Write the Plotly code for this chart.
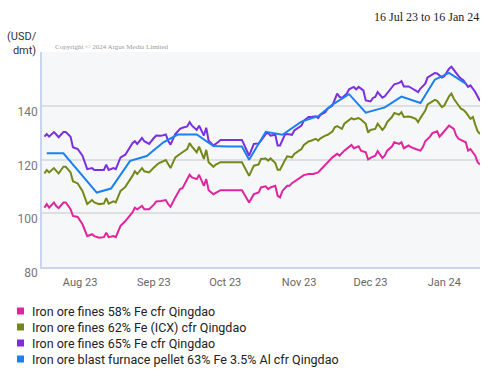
import plotly.graph_objects as go

# ---------------- data ----------------
series_names = [
    "Iron ore fines 58% Fe cfr Qingdao",
    "Iron ore fines 62% Fe (ICX) cfr Qingdao",
    "Iron ore fines 65% Fe cfr Qingdao",
    "Iron ore blast furnace pellet 63% Fe 3.5% Al cfr Qingdao",
]
series_colors = ["#e0249e", "#76871a", "#7b2fe0", "#1b80f0"]

fines58_dates = [
    "2023-07-17", "2023-07-18", "2023-07-19", "2023-07-21", "2023-07-22", "2023-07-23", "2023-07-25",
    "2023-07-26", "2023-07-28", "2023-07-29", "2023-07-31", "2023-08-02", "2023-08-04", "2023-08-06",
    "2023-08-07", "2023-08-09", "2023-08-11", "2023-08-12", "2023-08-13", "2023-08-15", "2023-08-16",
    "2023-08-18", "2023-08-19", "2023-08-20", "2023-08-23", "2023-08-24", "2023-08-25", "2023-08-27",
    "2023-08-28", "2023-08-30", "2023-09-01", "2023-09-02", "2023-09-04", "2023-09-06", "2023-09-07",
    "2023-09-08", "2023-09-10", "2023-09-12", "2023-09-13", "2023-09-15", "2023-09-16", "2023-09-17",
    "2023-09-19", "2023-09-20", "2023-09-22", "2023-09-23", "2023-09-24", "2023-09-26", "2023-09-27",
    "2023-09-29", "2023-10-08", "2023-10-11", "2023-10-13", "2023-10-15", "2023-10-16", "2023-10-18",
    "2023-10-19", "2023-10-20", "2023-10-22", "2023-10-23", "2023-10-24", "2023-10-25", "2023-10-27",
    "2023-10-28", "2023-10-29", "2023-10-31", "2023-11-01", "2023-11-03", "2023-11-05", "2023-11-07",
    "2023-11-09", "2023-11-11", "2023-11-13", "2023-11-15", "2023-11-17", "2023-11-18", "2023-11-20",
    "2023-11-22", "2023-11-23", "2023-11-24", "2023-11-26", "2023-11-27", "2023-11-29", "2023-11-30",
    "2023-12-01", "2023-12-03", "2023-12-04", "2023-12-06", "2023-12-07", "2023-12-08", "2023-12-10",
    "2023-12-11", "2023-12-13", "2023-12-14", "2023-12-15", "2023-12-17", "2023-12-18", "2023-12-20",
    "2023-12-22", "2023-12-23", "2023-12-24", "2023-12-26", "2023-12-27", "2023-12-29", "2023-12-30",
    "2023-12-31", "2024-01-02", "2024-01-03", "2024-01-05", "2024-01-06", "2024-01-07", "2024-01-09",
    "2024-01-10", "2024-01-11", "2024-01-12", "2024-01-14", "2024-01-15", "2024-01-16",
]
fines58_values = [
    102.1, 103.4, 102.1, 104.0, 102.7, 101.9, 104.0,
    104.0, 101.5, 99.0, 98.6, 95.9, 91.5, 92.2,
    91.5, 90.9, 91.1, 92.8, 91.1, 91.5, 91.1,
    95.3, 96.2, 97.1, 100.3, 102.1, 101.5, 102.7,
    101.5, 101.5, 103.2, 104.4, 104.6, 104.9, 103.4,
    102.4, 105.9, 109.0, 109.3, 112.7, 114.3, 113.3,
    112.7, 114.3, 110.2, 112.7, 108.6, 107.1, 107.7,
    108.6, 108.6, 104.0, 107.1, 107.7, 109.6, 110.0,
    109.0, 109.6, 110.2, 106.5, 105.9, 108.3, 110.2,
    110.2, 111.2, 112.4, 113.3, 114.2, 114.6, 114.6,
    115.2, 117.1, 119.0, 120.8, 122.1, 121.4, 123.3,
    124.6, 125.4, 124.2, 124.9, 123.3, 122.7, 120.0,
    120.6, 121.4, 123.1, 120.6, 121.4, 123.3, 124.8,
    126.4, 125.8, 126.4, 124.2, 125.2, 124.6, 123.9,
    123.3, 124.6, 126.8, 128.5, 129.8, 130.5, 128.5,
    129.5, 131.4, 132.6, 131.4, 128.9, 127.7, 127.0,
    126.4, 123.3, 123.9, 121.4, 119.0, 118.1,
]

fines62_dates = [
    "2023-07-17", "2023-07-18", "2023-07-19", "2023-07-21", "2023-07-22", "2023-07-23", "2023-07-25",
    "2023-07-26", "2023-07-28", "2023-07-29", "2023-07-31", "2023-08-02", "2023-08-04", "2023-08-06",
    "2023-08-07", "2023-08-09", "2023-08-11", "2023-08-12", "2023-08-13", "2023-08-15", "2023-08-16",
    "2023-08-18", "2023-08-19", "2023-08-20", "2023-08-23", "2023-08-24", "2023-08-25", "2023-08-27",
    "2023-08-28", "2023-08-30", "2023-09-01", "2023-09-03", "2023-09-06", "2023-09-07", "2023-09-08",
    "2023-09-10", "2023-09-12", "2023-09-13", "2023-09-15", "2023-09-16", "2023-09-17", "2023-09-19",
    "2023-09-20", "2023-09-22", "2023-09-23", "2023-09-24", "2023-09-26", "2023-09-27", "2023-09-29",
    "2023-10-08", "2023-10-11", "2023-10-13", "2023-10-15", "2023-10-16", "2023-10-18", "2023-10-19",
    "2023-10-20", "2023-10-22", "2023-10-23", "2023-10-24", "2023-10-26", "2023-10-27", "2023-10-29",
    "2023-10-30", "2023-11-01", "2023-11-02", "2023-11-03", "2023-11-05", "2023-11-06", "2023-11-08",
    "2023-11-09", "2023-11-10", "2023-11-12", "2023-11-13", "2023-11-15", "2023-11-16", "2023-11-17",
    "2023-11-19", "2023-11-20", "2023-11-22", "2023-11-23", "2023-11-24", "2023-11-26", "2023-11-27",
    "2023-11-29", "2023-11-30", "2023-12-01", "2023-12-03", "2023-12-04", "2023-12-06", "2023-12-07",
    "2023-12-08", "2023-12-10", "2023-12-11", "2023-12-13", "2023-12-14", "2023-12-15", "2023-12-17",
    "2023-12-18", "2023-12-20", "2023-12-21", "2023-12-22", "2023-12-24", "2023-12-25", "2023-12-27",
    "2023-12-28", "2023-12-29", "2023-12-31", "2024-01-01", "2024-01-03", "2024-01-04", "2024-01-05",
    "2024-01-07", "2024-01-08", "2024-01-09", "2024-01-10", "2024-01-12", "2024-01-13", "2024-01-14",
    "2024-01-15", "2024-01-16",
]
fines62_values = [
    114.8, 116.1, 115.2, 116.8, 115.8, 114.8, 117.3,
    117.3, 115.2, 111.9, 111.1, 108.3, 103.4, 104.9,
    104.0, 103.4, 103.6, 105.6, 103.6, 104.4, 104.0,
    108.3, 109.0, 109.8, 113.9, 115.6, 114.6, 116.8,
    115.6, 115.2, 117.0, 118.6, 119.8, 118.3, 116.8,
    120.8, 122.3, 122.7, 123.9, 126.1, 124.8, 122.7,
    124.8, 120.2, 123.6, 119.0, 117.3, 118.1, 119.0,
    119.0, 113.9, 117.7, 118.2, 120.2, 120.4, 119.6,
    120.4, 118.7, 116.2, 116.2, 119.6, 121.2, 120.8,
    122.1, 123.3, 123.9, 125.4, 126.7, 127.0, 127.7,
    127.0, 127.9, 128.9, 129.2, 130.4, 132.0, 132.4,
    131.4, 133.3, 134.5, 135.4, 134.9, 135.4, 134.9,
    133.3, 130.0, 131.0, 131.4, 133.3, 131.0, 132.0,
    133.9, 135.8, 137.3, 136.7, 137.6, 135.8, 136.0,
    135.8, 135.1, 133.9, 135.5, 138.2, 140.5, 141.8,
    142.2, 141.8, 139.5, 140.1, 143.5, 144.5, 142.6,
    140.1, 138.9, 138.5, 137.6, 135.1, 135.8, 133.0,
    130.5, 129.5,
]

fines65_dates = [
    "2023-07-17", "2023-07-18", "2023-07-19", "2023-07-21", "2023-07-22", "2023-07-23", "2023-07-25",
    "2023-07-26", "2023-07-28", "2023-07-29", "2023-07-31", "2023-08-02", "2023-08-04", "2023-08-06",
    "2023-08-07", "2023-08-09", "2023-08-11", "2023-08-12", "2023-08-13", "2023-08-15", "2023-08-16",
    "2023-08-18", "2023-08-19", "2023-08-20", "2023-08-23", "2023-08-24", "2023-08-25", "2023-08-27",
    "2023-08-28", "2023-08-30", "2023-09-01", "2023-09-02", "2023-09-04", "2023-09-06", "2023-09-07",
    "2023-09-08", "2023-09-10", "2023-09-12", "2023-09-13", "2023-09-15", "2023-09-16", "2023-09-17",
    "2023-09-19", "2023-09-20", "2023-09-22", "2023-09-23", "2023-09-24", "2023-09-26", "2023-09-27",
    "2023-09-29", "2023-10-08", "2023-10-11", "2023-10-13", "2023-10-15", "2023-10-16", "2023-10-18",
    "2023-10-19", "2023-10-20", "2023-10-22", "2023-10-23", "2023-10-24", "2023-10-26", "2023-10-27",
    "2023-10-29", "2023-10-30", "2023-11-01", "2023-11-02", "2023-11-03", "2023-11-05", "2023-11-06",
    "2023-11-08", "2023-11-09", "2023-11-10", "2023-11-12", "2023-11-13", "2023-11-15", "2023-11-16",
    "2023-11-17", "2023-11-18", "2023-11-19", "2023-11-21", "2023-11-22", "2023-11-24", "2023-11-25",
    "2023-11-26", "2023-11-28", "2023-11-29", "2023-12-01", "2023-12-02", "2023-12-03", "2023-12-04",
    "2023-12-06", "2023-12-07", "2023-12-08", "2023-12-10", "2023-12-11", "2023-12-13", "2023-12-14",
    "2023-12-15", "2023-12-17", "2023-12-18", "2023-12-20", "2023-12-21", "2023-12-22", "2023-12-24",
    "2023-12-25", "2023-12-27", "2023-12-28", "2023-12-29", "2023-12-31", "2024-01-01", "2024-01-03",
    "2024-01-04", "2024-01-05", "2024-01-07", "2024-01-08", "2024-01-09", "2024-01-11", "2024-01-12",
    "2024-01-14", "2024-01-15", "2024-01-16",
]
fines65_values = [
    128.5, 129.5, 128.5, 130.2, 129.3, 128.3, 130.2,
    130.2, 128.5, 124.6, 123.9, 121.4, 116.4, 116.8,
    116.1, 116.1, 116.1, 118.1, 116.1, 116.8, 116.4,
    120.8, 121.4, 121.8, 126.1, 126.8, 125.8, 128.0,
    126.8, 125.8, 128.0, 128.9, 128.8, 129.3, 127.0,
    125.5, 129.5, 131.4, 131.8, 132.3, 133.9, 132.6,
    131.0, 132.6, 128.9, 131.8, 127.0, 125.2, 125.8,
    127.3, 127.3, 121.4, 125.8, 126.0, 127.0, 129.5,
    129.9, 128.9, 129.2, 125.2, 125.2, 129.2, 129.5,
    129.2, 130.8, 132.0, 132.6, 134.5, 135.8, 135.8,
    136.1, 135.4, 136.6, 137.6, 138.9, 140.1, 142.6,
    144.5, 143.3, 142.9, 144.5, 146.1, 147.0, 146.1,
    147.0, 145.7, 142.0, 141.6, 142.9, 143.3, 145.1,
    143.0, 143.5, 144.7, 146.7, 148.0, 148.5, 149.2,
    147.2, 147.2, 146.7, 145.5, 145.1, 146.4, 148.2,
    150.5, 151.7, 152.2, 152.0, 150.5, 151.0, 153.8,
    154.5, 153.2, 151.0, 150.1, 149.5, 147.0, 147.6,
    145.1, 143.3, 141.8,
]

pellet_dates = [
    "2023-07-18", "2023-07-25", "2023-08-08", "2023-08-14", "2023-08-22", "2023-08-29", "2023-09-05",
    "2023-09-11", "2023-09-19", "2023-09-26", "2023-10-02", "2023-10-08", "2023-10-11", "2023-10-18",
    "2023-10-25", "2023-11-02", "2023-11-09", "2023-11-15", "2023-11-22", "2023-11-29", "2023-12-07",
    "2023-12-14", "2023-12-22", "2023-12-28", "2024-01-03", "2024-01-10",
]
pellet_values = [
    122.3, 122.3, 107.7, 109.2, 119.5, 121.3, 126.4,
    129.3, 129.3, 125.0, 124.8, 124.8, 119.9, 130.3,
    129.2, 134.1, 136.1, 140.4, 144.3, 137.4, 139.4,
    143.4, 141.0, 149.7, 152.2, 148.2,
]

month_ticks = ["2023-08-01", "2023-09-01", "2023-10-01", "2023-11-01", "2023-12-01", "2024-01-01"]
month_labels = ["Aug 23", "Sep 23", "Oct 23", "Nov 23", "Dec 23", "Jan 24"]
y_ticks = [80, 100, 120, 140, 160]
y_labels = ["80", "100", "120", "140", ""]

date_range_text = "16 Jul 23 to 16 Jan 24"
copyright_text = "Copyright © 2024 Argus Media Limited"
unit_text = "(USD/<br>dmt)"

# ---------------- figure ----------------
W, H = 500, 387
ML, MR, MT, MB = 42, 20, 52, 120
PW, PH = W - ML - MR, H - MT - MB


def px_to_paper_x(px):
    return (px - ML) / PW


def py_to_paper_y(py):
    return (H - MB - py) / PH


fig = go.Figure()
all_series = [
    (fines58_dates, fines58_values),
    (fines62_dates, fines62_values),
    (fines65_dates, fines65_values),
    (pellet_dates, pellet_values),
]
for (xs, ys), name, color in zip(all_series, series_names, series_colors):
    fig.add_trace(go.Scatter(
        x=xs, y=ys, mode="lines", name=name,
        line=dict(color=color, width=2), showlegend=False,
    ))

sans = "Roboto, Arial, sans-serif"
serif = "Liberation Serif, Times New Roman, serif"

fig.update_layout(
    width=W, height=H,
    margin=dict(l=ML, r=MR, t=MT, b=MB),
    paper_bgcolor="white",
    plot_bgcolor="#f6f7f9",
    font=dict(family=sans),
    xaxis=dict(
        type="date",
        range=["2023-07-16", "2024-01-16"],
        tickvals=month_ticks, ticktext=month_labels,
        showgrid=False, zeroline=False,
        showline=True, linecolor="#c9d4ee", linewidth=1.5,
        ticks="", ticklabelstandoff=4,
        tickfont=dict(size=11, color="#666666"),
    ),
    yaxis=dict(
        range=[80, 160],
        tickvals=y_ticks, ticktext=y_labels,
        showgrid=True, gridcolor="#dedfe2", gridwidth=1.5,
        zeroline=False,
        showline=True, linecolor="#c9d4ee", linewidth=1.5,
        ticks="", ticklabelshift=6,
        tickfont=dict(size=12, color="#777777"),
    ),
)

annotations = [
    dict(text=date_range_text, xref="paper", yref="paper",
         x=px_to_paper_x(481), y=py_to_paper_y(17), xanchor="right", yanchor="middle",
         showarrow=False, font=dict(family=serif, size=12, color="#222222")),
    dict(text=copyright_text, xref="paper", yref="paper",
         x=px_to_paper_x(53), y=py_to_paper_y(47), xanchor="left", yanchor="middle",
         showarrow=False, font=dict(family=serif, size=7, color="#999999")),
    dict(text=unit_text, xref="paper", yref="paper",
         x=px_to_paper_x(39), y=py_to_paper_y(43), xanchor="right", yanchor="middle",
         align="right", showarrow=False, font=dict(family=sans, size=11, color="#333333")),
]
shapes = []
legend_rows = [311, 327, 343, 359]
for name, color, row in zip(series_names, series_colors, legend_rows):
    shapes.append(dict(type="rect", xref="paper", yref="paper",
                       x0=px_to_paper_x(17), x1=px_to_paper_x(24),
                       y0=py_to_paper_y(row + 3.5), y1=py_to_paper_y(row - 3.5),
                       fillcolor=color, line=dict(width=0)))
    annotations.append(dict(text=name, xref="paper", yref="paper",
                            x=px_to_paper_x(30), y=py_to_paper_y(row), xanchor="left", yanchor="middle",
                            showarrow=False, font=dict(family=sans, size=12.5, color="#222222")))

fig.update_layout(annotations=annotations, shapes=shapes)
fig.write_html(
    "out.html",
    config={"displayModeBar": False},
    post_script="document.body.style.margin='0';document.body.style.overflow='hidden';",
)
